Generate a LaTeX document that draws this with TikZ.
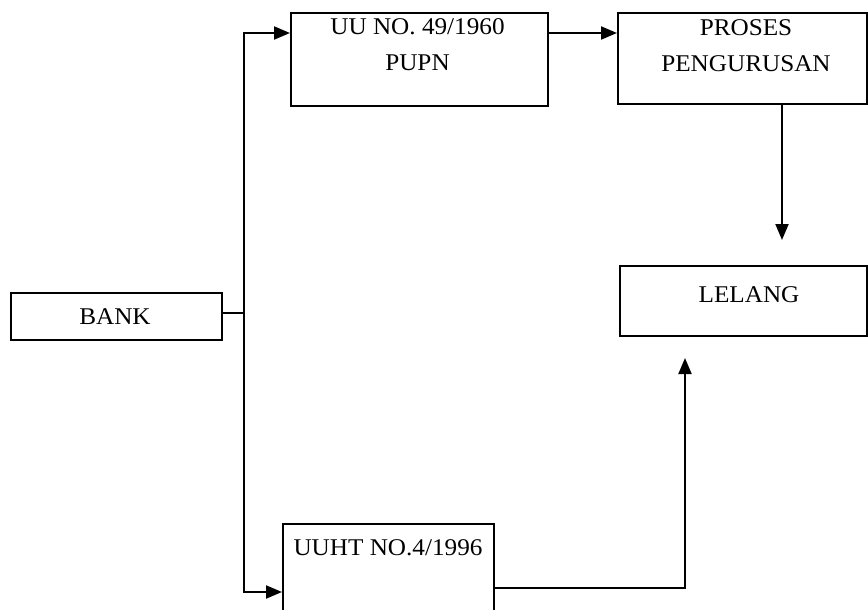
\documentclass[tikz,border=0pt]{standalone}
\usepackage{fontspec}
\setmainfont{Liberation Serif}[FakeStretch=1.05]
\usetikzlibrary{arrows.meta}
\begin{document}
\begin{tikzpicture}[x=1pt,y=-1pt,
  box/.style={draw, line width=2pt, inner sep=0pt, anchor=north west},
  txt/.style={inner sep=0pt, align=center, font=\fontsize{24}{36}\selectfont},
  conn/.style={line width=2pt},
  arr/.style={line width=2pt, -{Triangle[length=16pt,width=13pt]}}]
\clip (0,0) rectangle (868,610);
\fill[white] (0,0) rectangle (868,610);
% boxes
\node[box, minimum width=211pt, minimum height=47pt] (bank) at (10,292) {};
\node[box, minimum width=257pt, minimum height=93pt] (uu) at (290,12) {};
\node[box, minimum width=249pt, minimum height=91pt] (proses) at (617,12) {};
\node[box, minimum width=247pt, minimum height=70pt] (lelang) at (619,265) {};
\node[box, minimum width=211pt, minimum height=120pt] (uuht) at (282,523) {};
% texts
\node[txt] (tbank) at (115,317) {BANK};
\node[txt] (tuu) at (417.5,45) {UU NO. 49/1960\\PUPN};
\node[txt] (tproses) at (746,46) {PROSES\\PENGURUSAN};
\node[txt] (tlelang) at (749,295) {LELANG};
\node[txt] (tuuht) at (388,548) {UUHT NO.4/1996};
% connector coordinates
\coordinate (jt) at (244,33);
\coordinate (jb) at (244,592);
\coordinate (jm) at (244,313);
\coordinate (dn) at (782,240);
\coordinate (ub) at (685,588);
\coordinate (up) at (685,358);
% connectors
\draw[conn] (jm -| bank.east) -- (jm);
\draw[arr] (jm) -- (jt) -- (jt -| uu.west);
\draw[arr] (jm) -- (jb) -- (jb -| uuht.west);
\draw[arr] (jt -| uu.east) -- (jt -| proses.west);
\draw[arr] (dn |- proses.south) -- (dn);
\draw[arr] (ub -| uuht.east) -- (ub) -- (up);
\end{tikzpicture}
\end{document}
